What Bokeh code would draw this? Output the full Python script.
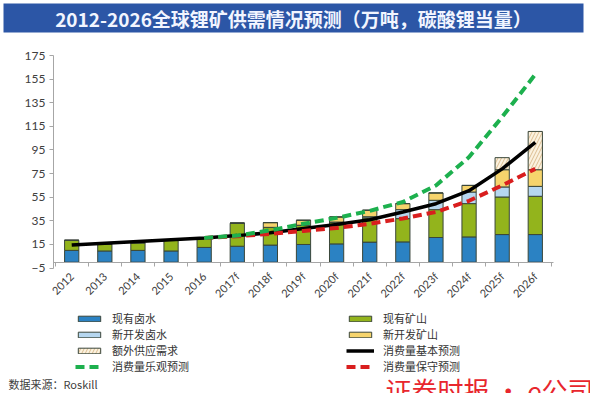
import math
from bokeh.plotting import figure
from bokeh.models import (ColumnDataSource, FixedTicker, Legend, LegendItem,
                          Label, Range1d, LinearAxis, BoxAnnotation)
from bokeh.embed import file_html
from bokeh.resources import INLINE

# ---------------- data ----------------
title_text = "2012-2026全球锂矿供需情况预测（万吨，碳酸锂当量）"
source_text = "数据来源：Roskill"
watermark_text = "证券时报 • e公司"

years = ["2012", "2013", "2014", "2015", "2016", "2017f", "2018f", "2019f",
         "2020f", "2021f", "2022f", "2023f", "2024f", "2025f", "2026f"]

existing_brine = [10, 9.5, 10, 9.5, 12.5, 13.5, 14.5, 15, 15.5, 17, 17.2, 20.9, 21.4, 23.4, 23.4]
existing_mine = [8.5, 6, 6.5, 9, 7.5, 19.5, 15, 16.3, 18.5, 20.5, 19.7, 23.6, 28.2, 31.8, 32.4]
new_brine = [0, 0, 0, 0, 0, 0, 0, 0, 0, 1, 7.6, 7.9, 9.8, 8.5, 8.4]
new_mine = [0, 0, 0, 0, 0, 0, 4, 4.2, 4.3, 5.5, 5.1, 6.2, 5.6, 14.6, 14.1]
extra_supply = [0, 0, 0, 0, 0, 0, 0, 0, 0, 0, 0, 0, 0, 10.2, 32.4]

base_demand = [14.5, 16, 17.5, 19, 20.5, 22.5, 25, 28.5, 32, 36, 42.5, 49.5, 60.5, 79, 101.5]

forecast_years = years[4:]
optimistic_demand = [20.5, 22.5, 27, 32.5, 37.5, 43.5, 51, 65, 89, 123, 159]
conservative_demand = [20.5, 22, 24, 26.5, 29, 32.5, 37, 42.5, 52, 65, 79]

y_ticks = [-5, 15, 35, 55, 75, 95, 115, 135, 155, 175]

series_names = ["现有卤水", "现有矿山", "新开发卤水", "新开发矿山", "额外供应需求"]
line_names = ["消费量基本预测", "消费量乐观预测", "消费量保守预测"]

# ---------------- styles / layout ----------------
FONT_CJK = "Noto Sans CJK SC"
bar_colors = ["#2B82C3", "#93B41C", "#B6D7F0", "#F6D46C", "#FBF2DF"]
hatches = [" ", " ", " ", " ", "/"]
BAR_LINE = "#3A463A"
AXIS_GREY = "#A6A6A6"

W, H = 590, 393
# plot area in canvas pixels
PX_LEFT, PX_RIGHT, PX_TOP, PX_BOTTOM = 53, 553, 55, 267.6
n = len(years)
x_per_px = (n + 0.1) / (PX_RIGHT - PX_LEFT)          # category units per pixel
x0_val = -0.55 - PX_LEFT * x_per_px
y_per_px = (y_ticks[-1] - y_ticks[0]) / (PX_BOTTOM - PX_TOP)
y_top_val = y_ticks[-1] + PX_TOP * y_per_px

p = figure(width=W, height=H,
           x_range=Range1d(x0_val, x0_val + W * x_per_px),
           y_range=Range1d(y_top_val - H * y_per_px, y_top_val),
           x_axis_location=None, y_axis_location=None,
           min_border=0, min_border_left=0, min_border_right=0,
           min_border_top=0, min_border_bottom=0,
           toolbar_location=None, output_backend="svg")
p.outline_line_color = None
p.grid.visible = False
p.background_fill_color = "white"
p.border_fill_color = "white"

# ---------------- banner ----------------
p.add_layout(BoxAnnotation(left=3, right=583, top=H - 3, bottom=H - 32,
                           left_units="screen", right_units="screen",
                           top_units="screen", bottom_units="screen",
                           fill_color="#2C56A6", fill_alpha=1, line_color=None,
                           level="underlay"))
p.add_layout(Label(x=293, y=H - 17.5, x_units="screen", y_units="screen",
                   text=title_text, text_align="center", text_baseline="middle",
                   text_color="#F2F5FF", text_font=FONT_CJK,
                   text_font_size="19px", text_font_style="bold"))

# ---------------- bars & lines ----------------
xs = list(range(n))
src = ColumnDataSource(dict(
    x=xs, years=years,
    existing_brine=existing_brine, existing_mine=existing_mine,
    new_brine=new_brine, new_mine=new_mine, extra_supply=extra_supply,
))
stackers = ["existing_brine", "existing_mine", "new_brine", "new_mine", "extra_supply"]
bars = p.vbar_stack(stackers, x="x", width=0.43, source=src,
                    fill_color=bar_colors, line_color=BAR_LINE, line_width=1,
                    hatch_pattern=hatches, hatch_color="#D8B88A",
                    hatch_alpha=0.9, hatch_scale=7, hatch_weight=1)

fx = [years.index(y) for y in forecast_years]
r_base = p.line(xs, base_demand, line_color="black", line_width=3.5)
r_cons = p.line(fx, conservative_demand, line_color="#D91E1E", line_width=4,
                line_dash="9 5")
r_opt = p.line(fx, optimistic_demand, line_color="#1DB04E", line_width=4,
               line_dash="9 5")

# ---------------- axes (placed inside the canvas) ----------------
x_left_val = -0.55
x_right_val = n - 0.45
xa = LinearAxis(fixed_location=0, bounds=(x_left_val, x_right_val),
                ticker=FixedTicker(ticks=xs, minor_ticks=[i - 0.5 for i in range(n + 1)]),
                major_label_overrides={i: y for i, y in enumerate(years)},
                major_label_orientation=math.pi / 4,
                major_tick_in=0, major_tick_out=0,
                minor_tick_in=0, minor_tick_out=4,
                axis_line_color=AXIS_GREY, minor_tick_line_color=AXIS_GREY,
                major_label_text_font="Lato", major_label_text_font_size="11px",
                major_label_text_color="#404040", major_label_standoff=8)
p.add_layout(xa, "below")

ya = LinearAxis(fixed_location=x_left_val, bounds=(y_ticks[0], y_ticks[-1]),
                ticker=FixedTicker(ticks=y_ticks, minor_ticks=[]),
                axis_line_color=AXIS_GREY, major_tick_line_color=AXIS_GREY,
                major_tick_in=0, major_tick_out=4,
                major_label_text_font="Lato", major_label_text_font_size="12px",
                major_label_text_color="#404040", major_label_standoff=4)
p.add_layout(ya, "left")

# ---------------- legends (two columns) ----------------
def make_legend(items, vx):
    return Legend(items=items, location=(vx, 19), orientation="vertical",
                  border_line_color=None, background_fill_alpha=0,
                  padding=0, margin=0, spacing=0, label_height=15,
                  glyph_height=7, glyph_width=28, label_standoff=9,
                  label_text_font=FONT_CJK, label_text_font_size="11px",
                  label_text_color="#333333")

p.add_layout(make_legend([
    LegendItem(label=series_names[0], renderers=[bars[0]]),
    LegendItem(label=series_names[2], renderers=[bars[2]]),
    LegendItem(label=series_names[4], renderers=[bars[4]]),
    LegendItem(label=line_names[1], renderers=[r_opt]),
], 75))
p.add_layout(make_legend([
    LegendItem(label=series_names[1], renderers=[bars[1]]),
    LegendItem(label=series_names[3], renderers=[bars[3]]),
    LegendItem(label=line_names[0], renderers=[r_base]),
    LegendItem(label=line_names[2], renderers=[r_cons]),
], 346))

# ---------------- source & watermark ----------------
p.add_layout(Label(x=8, y=10, x_units="screen", y_units="screen",
                   text=source_text, text_baseline="middle",
                   text_font=FONT_CJK, text_font_size="11px",
                   text_color="#404040"))
p.add_layout(Label(x=385, y=23, x_units="screen", y_units="screen",
                   text=watermark_text, text_baseline="top",
                   text_font=FONT_CJK, text_font_size="26px",
                   text_color="#E8262D"))

open("out.html", "w").write(file_html(p, INLINE))
